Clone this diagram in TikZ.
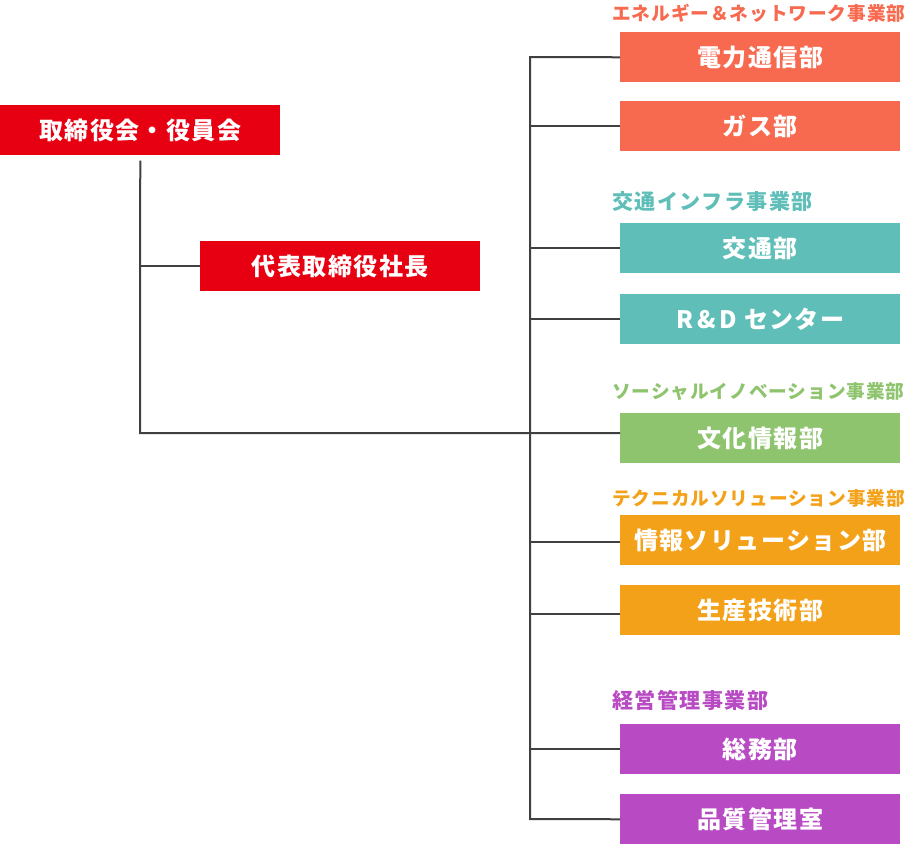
\documentclass[tikz,border=0pt]{standalone}
\usepackage{fontspec}
\setmainfont{Noto Sans CJK JP}
\newfontfamily\boxfont{Noto Sans CJK JP}[LetterSpace=6]
\newfontfamily\catfont{Noto Sans CJK JP}[LetterSpace=7]
\newfontfamily\catlongfont{Noto Sans CJK JP}[LetterSpace=5]
\definecolor{cred}{HTML}{E60012}
\definecolor{cene}{HTML}{F76A4F}
\definecolor{ctra}{HTML}{5FBFB8}
\definecolor{csoc}{HTML}{8FC46F}
\definecolor{ctec}{HTML}{F4A11A}
\definecolor{cmgt}{HTML}{B84BC4}
\definecolor{cline}{HTML}{404040}
\tikzset{
  unitbox/.style={fill=#1, draw=none, text=white, minimum width=210pt, minimum height=37.5pt,
    inner sep=0pt, anchor=north west, font=\boxfont\bfseries\fontsize{18pt}{20pt}\selectfont},
  catlabel/.style={text=#1, anchor=west, inner sep=0pt, font=\catfont\bfseries\fontsize{15.8pt}{17pt}\selectfont},
  catlong/.style={text=#1, anchor=west, inner sep=0pt, font=\catlongfont\bfseries\fontsize{14pt}{16pt}\selectfont},
  conn/.style={draw=cline, line width=1.5pt}
}
\begin{document}
\begin{tikzpicture}[x=0.75pt,y=-0.75pt]
\useasboundingbox (0,0) rectangle (908,844);
% top boxes
\node[unitbox=cred] (board) at (0,105) {取締役会・役員会};
\node[unitbox=cred] (ceo) at (200,241) {代表取締役社長};
% category labels
\node[catlong=cene] (lene) at (612,13) {エネルギー＆ネットワーク事業部};
\node[catlabel=ctra] (ltra) at (612,201) {交通インフラ事業部};
\node[catlong=csoc] (lsoc) at (612,392) {ソーシャルイノベーション事業部};
\node[catlong=ctec] (ltec) at (612,498) {テクニカルソリューション事業部};
\node[catlabel=cmgt] (lmgt) at (612,700) {経営管理事業部};
% units
\node[unitbox=cene] (denryoku) at (620,32) {電力通信部};
\node[unitbox=cene] (gas) at (620,101) {ガス部};
\node[unitbox=ctra] (kotsu) at (620,223) {交通部};
\node[unitbox=ctra] (rd) at (620,294) {R\kern3pt\&\kern3pt D センター};
\node[unitbox=csoc] (bunka) at (620,413) {文化情報部};
\node[unitbox=ctec] (joho) at (620,515) {情報ソリューション部};
\node[unitbox=ctec] (seisan) at (620,585) {生産技術部};
\node[unitbox=cmgt] (somu) at (620,724) {総務部};
\node[unitbox=cmgt] (hinshitsu) at (620,794) {品質管理室};
% coordinates
\coordinate (j) at (140,433);
\coordinate (sT) at (530,57);
\coordinate (sB) at (530,819);
% connectors
\draw[conn] ([yshift=-3.75pt]board.south) -- (j) -- (j -| bunka.west);
\draw[conn] (ceo.west) -- (ceo.west -| j);
\draw[conn] (denryoku.west) -- (sT) -- (sB) -- (hinshitsu.west);
\draw[conn] (gas.west) -- (gas.west -| sT);
\draw[conn] (kotsu.west) -- (kotsu.west -| sT);
\draw[conn] (rd.west) -- (rd.west -| sT);
\draw[conn] ([yshift=-1.5pt]joho.west) -- ([yshift=-1.5pt]joho.west -| sT);
\draw[conn] ([yshift=-3pt]seisan.west) -- ([yshift=-3pt]seisan.west -| sT);
\draw[conn] (somu.west) -- (somu.west -| sT);
\end{tikzpicture}
\end{document}
